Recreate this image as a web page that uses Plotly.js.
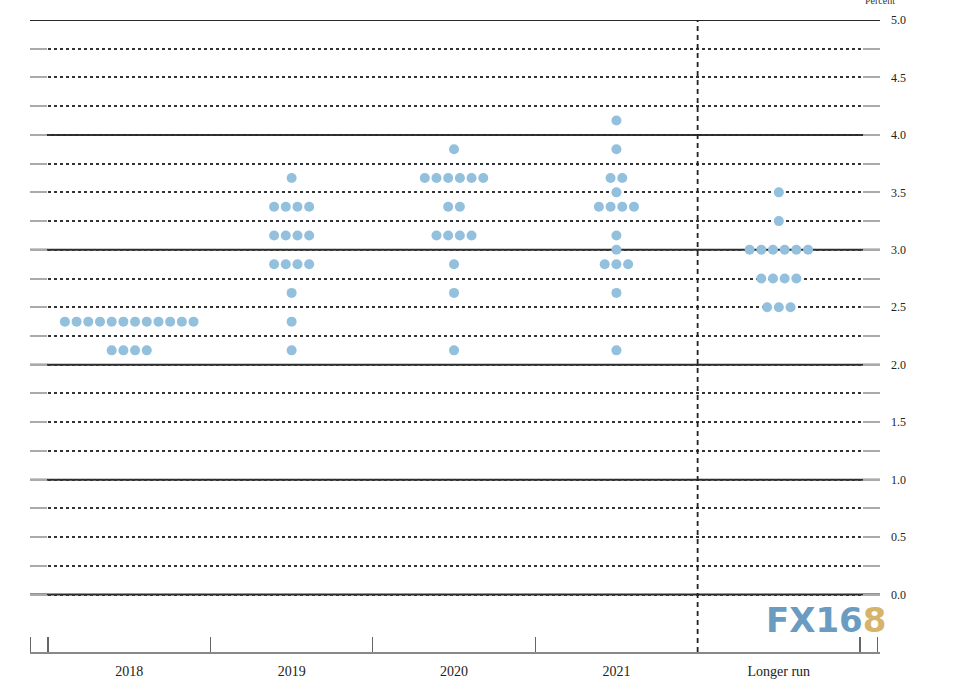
<!DOCTYPE html>
<html>
<head>
<meta charset="utf-8">
<script src="https://cdn.plot.ly/plotly-3.0.1.min.js"></script>
<style>html,body{margin:0;padding:0;background:#fff;}#chart{width:953px;height:692px;}</style>
</head>
<body>
<div id="chart"></div>
<script>
// Categories (x axis)
const categories = ['2018', '2019', '2020', '2021', 'Longer run'];

// Midpoint of target range for each dot level, and number of participants at each level
const rates2018 = [2.375, 2.125];
const counts2018 = [12, 4];

const rates2019 = [3.625, 3.375, 3.125, 2.875, 2.625, 2.375, 2.125];
const counts2019 = [1, 4, 4, 4, 1, 1, 1];

const rates2020 = [3.875, 3.625, 3.375, 3.125, 2.875, 2.625, 2.125];
const counts2020 = [1, 6, 2, 4, 1, 1, 1];

const rates2021 = [4.125, 3.875, 3.625, 3.5, 3.375, 3.125, 3.0, 2.875, 2.625, 2.125];
const counts2021 = [1, 1, 2, 1, 4, 1, 1, 3, 1, 1];

const ratesLonger = [3.5, 3.25, 3.0, 2.75, 2.5];
const countsLonger = [1, 1, 6, 4, 3];

// Y tick labels and grid levels
const yLabelVals = [0, 0.5, 1, 1.5, 2, 2.5, 3, 3.5, 4, 4.5, 5];
const yLabelText = ['0.0','0.5','1.0','1.5','2.0','2.5','3.0','3.5','4.0','4.5','5.0'];
const yQuarterVals = [0.25, 0.75, 1.25, 1.75, 2.25, 2.75, 3.25, 3.75, 4.25, 4.75];
const ySolidVals = [0, 1, 2, 3, 4, 5];

// ---- build dot positions (side-by-side layout within each category) ----
const groups = [
  [rates2018, counts2018],
  [rates2019, counts2019],
  [rates2020, counts2020],
  [rates2021, counts2021],
  [ratesLonger, countsLonger]
];
const dotGap = 0.072; // horizontal spacing between adjacent dots (axis units)
const xs = [], ys = [];
groups.forEach(([rates, counts], ci) => {
  rates.forEach((r, k) => {
    const n = counts[k];
    for (let i = 0; i < n; i++) {
      xs.push(ci + (i - (n - 1) / 2) * dotGap);
      ys.push(r);
    }
  });
});

const serif = 'Liberation Serif, Times New Roman, serif';

const trace = {
  type: 'scatter',
  mode: 'markers',
  x: xs,
  y: ys,
  marker: { color: '#92c0dd', size: 10, line: { width: 0 } },
  hoverinfo: 'skip',
  showlegend: false,
  cliponaxis: false
};

const shapes = ySolidVals.map(v => ({
  type: 'line', xref: 'paper', x0: 0, x1: 1, yref: 'y', y0: v, y1: v,
  line: { color: '#2a2a2a', width: 2 }, layer: 'below'
}));
shapes.push({
  type: 'line', xref: 'x', x0: 3.5, x1: 3.5, yref: 'paper', y0: 0, y1: 1,
  line: { color: '#222', width: 1.8, dash: '5px,4px' }, layer: 'above'
});

const layout = {
  width: 953, height: 692,
  margin: { l: 30, r: 73, t: 20, b: 40 },
  paper_bgcolor: '#ffffff',
  plot_bgcolor: '#ffffff',
  showlegend: false,
  font: { family: serif, color: '#222' },
  xaxis: {
    range: [-0.611, 4.623],
    tickmode: 'array',
    tickvals: [0, 1, 2, 3, 4],
    ticktext: categories,
    ticks: '',
    ticklabelstandoff: 6,
    tickfont: { family: serif, size: 14, color: '#222' },
    showgrid: false,
    zeroline: false,
    showline: true,
    linecolor: '#888',
    linewidth: 1.5,
    minor: {
      tickmode: 'array',
      tickvals: [-0.608, -0.5, 0.5, 1.5, 2.5, 4.5, 4.61],
      ticks: 'inside',
      ticklen: 15,
      tickwidth: 1.2,
      tickcolor: '#666',
      showgrid: false
    },
    fixedrange: true
  },
  yaxis: {
    range: [-0.5, 5.0],
    side: 'right',
    tickmode: 'array',
    tickvals: yLabelVals,
    ticktext: yLabelText,
    ticks: 'inside',
    ticklen: 17,
    tickwidth: 2,
    tickcolor: '#aaa',
    mirror: 'ticks',
    ticklabelstandoff: 10,
    tickfont: { family: serif, size: 12, color: '#222' },
    showgrid: true,
    griddash: 'dot',
    gridcolor: '#333',
    gridwidth: 2,
    zeroline: false,
    showline: false,
    minor: {
      tickmode: 'array',
      tickvals: yQuarterVals,
      ticks: 'inside',
      ticklen: 17,
      tickwidth: 2,
      tickcolor: '#aaa',
      showgrid: true,
      griddash: 'dot',
      gridcolor: '#333',
      gridwidth: 2
    },
    fixedrange: true
  },
  shapes: shapes,
  annotations: [
    {
      text: 'Percent', xref: 'paper', yref: 'paper', x: 1, y: 1,
      xanchor: 'center', yanchor: 'middle', yshift: 20, showarrow: false,
      font: { family: serif, size: 10, color: '#333' }
    },
    {
      text: '<b><span style="color:#6a9cc2">FX16</span><span style="color:#d6b46c">8</span></b>',
      xref: 'paper', yref: 'paper', x: 0.936, y: 0.0506,
      xanchor: 'center', yanchor: 'middle', showarrow: false,
      font: { family: 'DejaVu Sans, sans-serif', size: 34, color: '#6a9cc2' }
    }
  ]
};

Plotly.newPlot('chart', [trace], layout, { staticPlot: true, displayModeBar: false });
</script>
</body>
</html>
